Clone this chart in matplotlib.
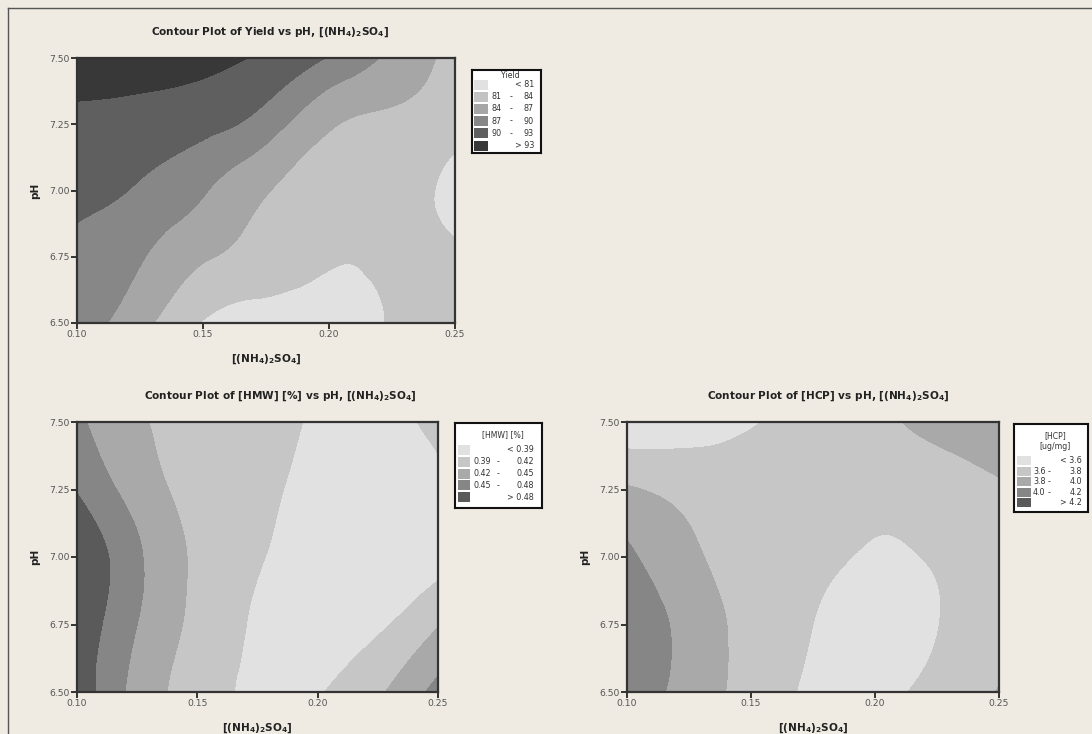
import numpy as np
import matplotlib
matplotlib.use("Agg")
import matplotlib.pyplot as plt
import matplotlib.tri as mtri
from matplotlib.patches import Rectangle
from matplotlib.lines import Line2D

# Gitterpunkte: [(NH4)2SO4] und pH
ammonium_sulfate = [0.10, 0.125, 0.15, 0.175, 0.20, 0.225, 0.25]
ph_levels = [6.50, 6.75, 7.00, 7.25, 7.50]

# Antwortflaechen (Zeilen = pH, Spalten = [(NH4)2SO4])
yield_pct = [
    [88.5, 85.0, 80.8, 79.0, 79.3, 81.2, 82.0],
    [89.5, 87.3, 84.3, 83.0, 81.3, 81.5, 81.5],
    [90.6, 89.7, 87.3, 84.2, 82.5, 82.0, 80.2],
    [92.2, 91.8, 90.9, 88.5, 84.4, 83.2, 82.0],
    [94.5, 94.3, 93.8, 92.5, 89.8, 86.3, 83.0],
]
hmw_pct = [
    [0.500, 0.440, 0.405, 0.384, 0.388, 0.415, 0.460],
    [0.505, 0.450, 0.412, 0.386, 0.375, 0.385, 0.418],
    [0.510, 0.455, 0.415, 0.393, 0.370, 0.365, 0.380],
    [0.478, 0.437, 0.410, 0.398, 0.378, 0.370, 0.382],
    [0.455, 0.425, 0.405, 0.397, 0.386, 0.377, 0.400],
]
hcp_ugmg = [
    [4.12, 3.92, 3.72, 3.57, 3.56, 3.66, 3.81],
    [4.14, 3.93, 3.73, 3.60, 3.52, 3.595, 3.72],
    [4.04, 3.84, 3.72, 3.65, 3.58, 3.62, 3.70],
    [3.82, 3.74, 3.70, 3.68, 3.64, 3.70, 3.78],
    [3.43, 3.48, 3.585, 3.66, 3.74, 3.87, 3.88],
]

yield_breaks = [81, 84, 87, 90, 93]
hmw_breaks = [0.39, 0.42, 0.45, 0.48]
hcp_breaks = [3.6, 3.8, 4.0, 4.2]

x_ticks = [0.10, 0.15, 0.20, 0.25]
y_ticks = [6.50, 6.75, 7.00, 7.25, 7.50]

grays6 = ["#e1e1e1", "#c3c3c3", "#a6a6a6", "#878787", "#5f5f5f", "#383838"]
grays5 = ["#e1e1e1", "#c6c6c6", "#a9a9a9", "#868686", "#5a5a5a"]

W, H = 1092, 734
BG = "#EFEBE2"
fig = plt.figure(figsize=(W / 100, H / 100), dpi=100, facecolor=BG)

# Rahmen links/oben
fig.add_artist(Line2D([8 / W, 8 / W], [0, 1 - 8 / H], transform=fig.transFigure, color="#555", lw=1))
fig.add_artist(Line2D([8 / W, 1], [1 - 8 / H, 1 - 8 / H], transform=fig.transFigure, color="#555", lw=1))

salt = r"[(NH$_{\mathbf{4}}$)$_{\mathbf{2}}$SO$_{\mathbf{4}}$]"


def px_rect(left, top, right, bottom):
    return [left / W, 1 - bottom / H, (right - left) / W, (bottom - top) / H]


def contour_panel(box, z, breaks, shades, title, title_x):
    left, top, right, bottom = box
    ax = fig.add_axes(px_rect(*box))
    # Triangulierung im Einheitsquadrat, dann glatt verfeinern
    u, v = np.meshgrid(np.linspace(0, 1, len(ammonium_sulfate)), np.linspace(0, 1, len(ph_levels)))
    tri = mtri.Triangulation(u.ravel(), v.ravel())
    tri_f, z_f = mtri.UniformTriRefiner(tri).refine_field(np.asarray(z, float).ravel(), subdiv=4)
    xs = ammonium_sulfate[0] + tri_f.x * (ammonium_sulfate[-1] - ammonium_sulfate[0])
    ys = ph_levels[0] + tri_f.y * (ph_levels[-1] - ph_levels[0])
    tri_xy = mtri.Triangulation(xs, ys, tri_f.triangles)
    levels = [z_f.min() - 1] + list(breaks) + [z_f.max() + 1]
    ax.tricontourf(tri_xy, z_f, levels=levels, colors=shades, antialiased=False)

    ax.set_xlim(ammonium_sulfate[0], ammonium_sulfate[-1])
    ax.set_ylim(ph_levels[0], ph_levels[-1])
    ax.set_xticks(x_ticks)
    ax.set_yticks(y_ticks)
    ax.set_xticklabels(["%.2f" % t for t in x_ticks])
    ax.set_yticklabels(["%.2f" % t for t in y_ticks])
    ax.tick_params(direction="out", length=4, width=1.4, color="#333",
                   labelsize=6.7, labelcolor="#555", pad=1)
    for s in ax.spines.values():
        s.set_linewidth(1.6)
        s.set_color("#333")

    cx = (left + right) / 2
    fig.text(title_x / W, 1 - (top - 26) / H, title, ha="center", va="center",
             fontsize=7.6, fontweight="bold", color="#222")
    fig.text(cx / W, 1 - (bottom + 36) / H, salt, ha="center", va="center",
             fontsize=7.6, fontweight="bold", color="#222")
    fig.text((left - 42) / W, 1 - (top + bottom) / 2 / H, "pH", ha="center", va="center",
             rotation=90, fontsize=7.6, fontweight="bold", color="#222")
    return ax


def legend_box(box, title_lines, title_y, breaks, fmt, shades, row0, step,
               sw, tx_low, tx_dash, tx_high, sw_h):
    left, top, right, bottom = box
    lax = fig.add_axes(px_rect(*box))
    lax.set_xlim(left, right)
    lax.set_ylim(bottom, top)
    lax.set_xticks([])
    lax.set_yticks([])
    lax.set_facecolor("white")
    for s in lax.spines.values():
        s.set_linewidth(1.5)
        s.set_color("#111")
    for i, line in enumerate(title_lines):
        lax.text((left + right) / 2 + 4, title_y + i * 11, line, ha="center", va="center",
                 fontsize=5.6, color="#333")
    n = len(breaks) + 1
    for i in range(n):
        y = row0 + i * step
        lax.add_patch(Rectangle((sw[0], y - sw_h / 2), sw[1] - sw[0], sw_h,
                                facecolor=shades[i], edgecolor="none"))
        kw = dict(va="center", fontsize=5.8, color="#333")
        if i == 0:
            lax.text(tx_high, y, "< " + fmt % breaks[0], ha="right", **kw)
        elif i == n - 1:
            lax.text(tx_high, y, "> " + fmt % breaks[-1], ha="right", **kw)
        else:
            lax.text(tx_low, y, fmt % breaks[i - 1], ha="left", **kw)
            lax.text(tx_dash, y, "-", ha="center", **kw)
            lax.text(tx_high, y, fmt % breaks[i], ha="right", **kw)


contour_panel((77, 58, 455, 323), yield_pct, yield_breaks, grays6,
              "Contour Plot of Yield vs pH, " + salt, 270)
legend_box((472, 70, 541, 153), ["Yield"], 76, yield_breaks, "%d", grays6,
           84.5, 12.2, (474, 488), 491, 511, 534, 10)

contour_panel((77, 422, 438, 692), hmw_pct, hmw_breaks, grays5,
              "Contour Plot of [HMW] [%] vs pH, " + salt, 280)
legend_box((455, 423, 542, 508), ["[HMW] [%]"], 435, hmw_breaks, "%.2f", grays5,
           450, 11.8, (458, 470), 474, 498, 534, 10)

contour_panel((627, 422, 999, 692), hcp_ugmg, hcp_breaks, grays5,
              "Contour Plot of [HCP] vs pH, " + salt, 828)
legend_box((1014, 424, 1088, 512), ["[HCP]", "[ug/mg]"], 436, hcp_breaks, "%.1f", grays5,
           461, 10.5, (1017, 1031), 1033, 1049, 1082, 9)

fig.savefig("out.png", dpi=100, facecolor=BG)
